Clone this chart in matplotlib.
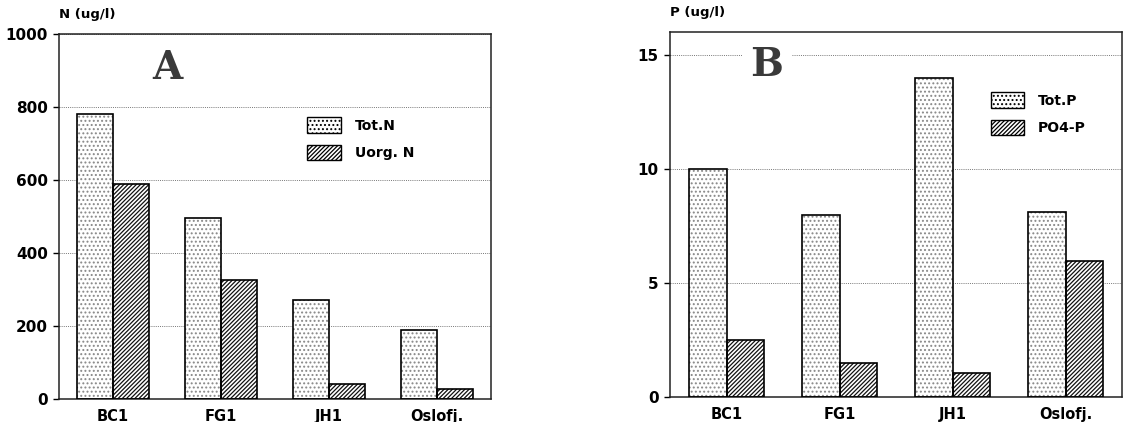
import matplotlib
matplotlib.use("Agg")
import matplotlib.pyplot as plt
import numpy as np
from matplotlib.patches import Patch

categories = ["BC1", "FG1", "JH1", "Oslofj."]
tot_n = [780, 495, 270, 190]
uorg_n = [590, 325, 40, 28]
tot_p = [10.0, 8.0, 14.0, 8.1]
po4_p = [2.5, 1.5, 1.05, 5.95]

n_yticks = [0, 200, 400, 600, 800, 1000]
p_yticks = [0, 5, 10, 15]

plt.rcParams['font.family'] = ['DejaVu Sans']
plt.rcParams['hatch.linewidth'] = 0.9

fig = plt.figure(figsize=(11.32, 4.22), dpi=100)
axA = fig.add_axes([0.0521, 0.0545, 0.3816, 0.865])
axB = fig.add_axes([0.5919, 0.0592, 0.3993, 0.865])

w = 0.333


def draw(ax, tot, sub, ylim, yticks, ylabel, letter, letter_xy, leg_labels, leg_y):
    x = np.arange(len(categories))
    ax.bar(x - w / 2, tot, w, facecolor='white', edgecolor='#888888', hatch='....', linewidth=0, zorder=2)
    ax.bar(x - w / 2, tot, w, fill=False, edgecolor='black', linewidth=1.2, zorder=3)
    ax.bar(x + w / 2, sub, w, facecolor='white', edgecolor='#111111', hatch='////////', linewidth=0, zorder=2)
    ax.bar(x + w / 2, sub, w, fill=False, edgecolor='black', linewidth=1.2, zorder=3)
    ax.set_xlim(-0.5, len(categories) - 0.5)
    ax.set_ylim(*ylim)
    ax.set_yticks(yticks)
    ax.set_yticklabels([str(t) for t in yticks], fontsize=11, fontweight='bold')
    ax.set_xticks(x)
    ax.set_xticklabels(categories, fontsize=10.5, fontweight='bold')
    ax.tick_params(axis='x', length=0, pad=7)
    ax.tick_params(axis='y', length=4, width=1, direction='out', pad=4)
    ax.yaxis.grid(True, linestyle=(0, (1, 1.2)), color='#777777', linewidth=0.7, zorder=0)
    ax.set_axisbelow(True)
    for s in ax.spines.values():
        s.set_linewidth(1.1)
        s.set_color('#222222')
    ax.text(0.0, 1.035, ylabel, transform=ax.transAxes, fontsize=9.5, fontweight='bold', ha='left', va='bottom')
    ax.text(letter_xy[0], letter_xy[1], letter, transform=ax.transAxes, fontsize=28, fontweight='bold',
            family='DejaVu Serif', color='#3a3a3a', ha='center', va='center',
            bbox=dict(facecolor='white', edgecolor='none', pad=6), zorder=4)
    handles = [Patch(facecolor='white', edgecolor='black', hatch='....', linewidth=1.0),
               Patch(facecolor='white', edgecolor='black', hatch='////////', linewidth=1.0)]
    ax.legend(handles, leg_labels, loc='upper left', bbox_to_anchor=leg_y, frameon=False,
              prop={'size': 10, 'weight': 'bold'}, handlelength=2.4, handleheight=1.3,
              handletextpad=1.0, labelspacing=0.9)


draw(axA, tot_n, uorg_n, (0, 1000), n_yticks, "N (ug/l)", "A", ((167 - 59) / 432, 1 - (68 - 34) / 365),
     ["Tot.N", "Uorg. N"], ((295 - 59) / 432, 1 - (105 - 34) / 365))
draw(axB, tot_p, po4_p, (0, 16), p_yticks, "P (ug/l)", "B", ((767 - 670) / 452, 1 - (65 - 32) / 365),
     ["Tot.P", "PO4-P"], ((978 - 670) / 452, 1 - (80 - 32) / 365))

fig.savefig("out.png", dpi=100)
